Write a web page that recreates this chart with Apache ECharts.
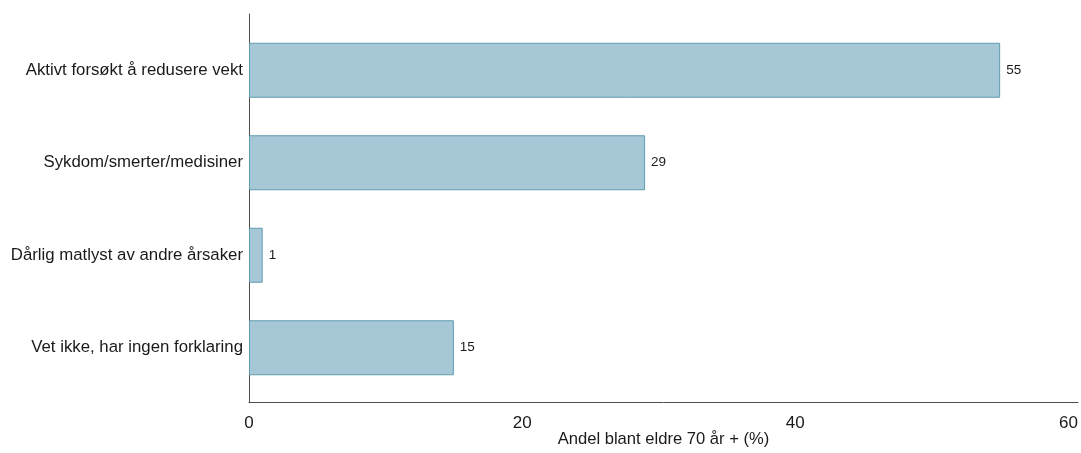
<!DOCTYPE html>
<html>
<head>
<meta charset="utf-8">
<script src="https://cdn.jsdelivr.net/npm/echarts@6/dist/echarts.min.js"></script>
<style>
  html, body { margin: 0; padding: 0; background: #ffffff; }
  #chart { width: 1081px; height: 453px; }
</style>
</head>
<body>
<div id="chart"></div>
<script>
// Reasons for weight loss among people aged 70+
const categories = [
  'Aktivt forsøkt å redusere vekt',
  'Sykdom/smerter/medisiner',
  'Dårlig matlyst av andre årsaker',
  'Vet ikke, har ingen forklaring'
];
const shares = [55, 29, 1, 15];
const xTicks = [0, 20, 40, 60];
const xName = 'Andel blant eldre 70 år + (%)';

const FONT = '"Liberation Sans", Arial, sans-serif';
const X_MAX = 60.7;

const chart = echarts.init(document.getElementById('chart'), null, { renderer: 'canvas' });

chart.setOption({
  animation: false,
  backgroundColor: '#ffffff',
  textStyle: { fontFamily: FONT },
  grid: [
    // frame with axis lines and tick labels
    { left: 249, right: 3, top: 14, bottom: 51, containLabel: false, outerBoundsMode: 'none' },
    // band area for the bars
    { left: 249, right: 3, top: 24, bottom: 59, containLabel: false, outerBoundsMode: 'none' }
  ],
  xAxis: [
    {
      gridIndex: 0,
      type: 'value',
      min: 0,
      max: X_MAX,
      interval: 20,
      name: xName,
      nameLocation: 'middle',
      nameGap: 29,
      nameMoveOverlap: false,
      nameTextStyle: { fontSize: 16.6, color: '#1a1a1a', fontFamily: FONT, verticalAlign: 'top' },
      axisLine: { show: true, lineStyle: { color: '#4d4d4d', width: 1 } },
      axisTick: { show: false },
      splitLine: { show: false },
      axisLabel: {
        fontSize: 17, color: '#1a1a1a', margin: 13, fontFamily: FONT,
        showMaxLabel: false,
        formatter: v => (xTicks.indexOf(v) >= 0 ? String(v) : '')
      }
    },
    {
      gridIndex: 1,
      type: 'value',
      min: 0,
      max: X_MAX,
      show: false
    }
  ],
  yAxis: [
    {
      gridIndex: 0,
      type: 'value',
      min: 0,
      max: 1,
      axisLine: { show: true, lineStyle: { color: '#4d4d4d', width: 1 } },
      axisTick: { show: false },
      axisLabel: { show: false },
      splitLine: { show: false }
    },
    {
      gridIndex: 1,
      type: 'category',
      inverse: true,
      data: categories,
      axisLine: { show: false },
      axisTick: { show: false },
      splitLine: { show: false },
      axisLabel: { fontSize: 16.8, color: '#1a1a1a', margin: 6, fontFamily: FONT }
    }
  ],
  series: [
    {
      type: 'bar',
      xAxisIndex: 1,
      yAxisIndex: 1,
      data: shares,
      barWidth: 55,
      itemStyle: { color: '#a5c7d6', borderColor: '#5f9db1', borderWidth: 1 },
      label: {
        show: true,
        position: 'right',
        distance: 6,
        fontSize: 13.5,
        color: '#1a1a1a',
        fontFamily: FONT
      }
    }
  ]
});
</script>
</body>
</html>
